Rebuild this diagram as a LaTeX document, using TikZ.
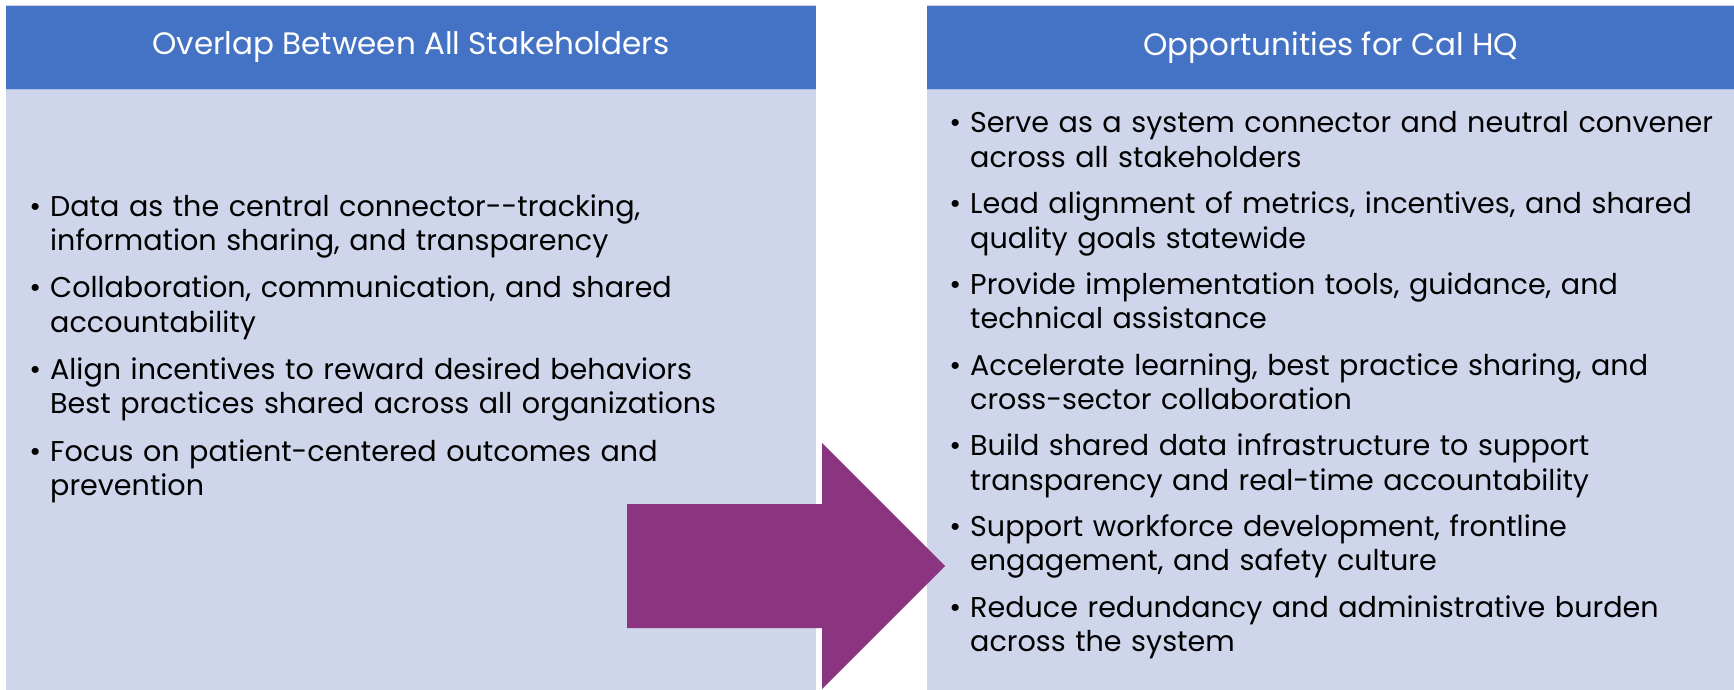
\documentclass[tikz,border=0pt]{standalone}
\usepackage{fontspec}
\setmainfont{Poppins}
\usetikzlibrary{positioning}

\definecolor{headblue}{HTML}{4472C4}
\definecolor{bodyblue}{HTML}{CFD5EA}
\definecolor{arrowpurple}{HTML}{8B347F}

\newcommand{\bul}{\llap{\textbullet\hspace{9pt}}}

\tikzset{
  header/.style={fill=headblue, text=white, anchor=north west, inner sep=0pt,
    font=\fontsize{31}{34}\selectfont},
  item/.style={anchor=base west, align=left, inner sep=0pt, text width=780pt,
    font=\fontsize{28.6}{34.5}\selectfont},
}

\begin{document}
\begin{tikzpicture}[x=1pt, y=-1pt]
	\useasboundingbox (0,0) rectangle (1734,690);
	% the two panels
	\fill[bodyblue] (5.5,5.5) rectangle (816,690);
	\fill[bodyblue] (927,5.5) rectangle (1734,690);
	\node[header, minimum width=810.5pt, minimum height=83.5pt] (lefthead) at (5.5,5.5) {Overlap Between All Stakeholders};
	\node[header, minimum width=807pt, minimum height=83.5pt] (righthead) at (927,5.5) {Opportunities for Cal HQ};
	\draw[headblue!45!white, line width=1.2pt] (lefthead.south west) -- (lefthead.south east);
	\draw[headblue!45!white, line width=1.2pt] (righthead.south west) -- (righthead.south east);

	% left list
	\node[item] (l1) at (50,216) {\bul Data as the central connector-{}-tracking,\\information sharing, and transparency};
	\node[item] (l2) at (50,297.5) {\bul Collaboration, communication, and shared\\accountability};
	\node[item] (l3) at (50,379) {\bul Align incentives to reward desired behaviors\\Best practices shared across all organizations};
	\node[item] (l4) at (50,461) {\bul Focus on patient-centered outcomes and\\prevention};

	% right list
	\node[item] (r1) at (970,132.5) {\bul Serve as a system connector and neutral convener\\across all stakeholders};
	\node[item] (r2) at (970,213.5) {\bul Lead alignment of metrics, incentives, and shared\\quality goals statewide};
	\node[item] (r3) at (970,294) {\bul Provide implementation tools, guidance, and\\technical assistance};
	\node[item] (r4) at (970,375) {\bul Accelerate learning, best practice sharing, and\\cross-sector collaboration};
	\node[item] (r5) at (970,455.5) {\bul Build shared data infrastructure to support\\transparency and real-time accountability};
	\node[item] (r6) at (970,536) {\bul Support workforce development, frontline\\engagement, and safety culture};
	\node[item] (r7) at (970,617) {\bul Reduce redundancy and administrative burden\\across the system};

	% big arrow between the panels
	\fill[arrowpurple] (627,504) -- (822,504) -- (822,443) -- (945,566)
		-- (822,689) -- (822,628) -- (627,628) -- cycle;
\end{tikzpicture}
\end{document}
